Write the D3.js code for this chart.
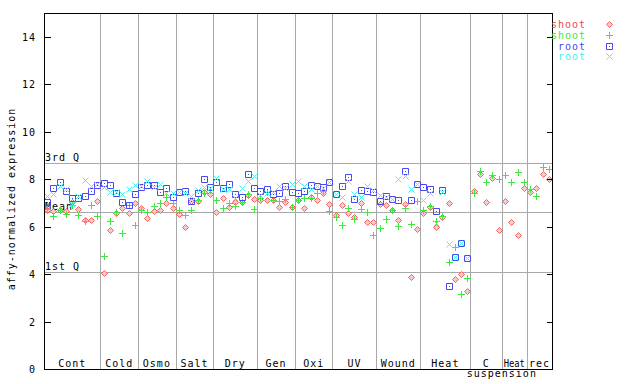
<!DOCTYPE html>
<html>
<head>
<meta charset="utf-8">
<script src="https://cdn.jsdelivr.net/npm/d3@7"></script>
<style>
  body { margin: 0; background: #fff; }
  svg text { font-family: "DejaVu Sans Mono", monospace; font-size: 10px; letter-spacing: 1px; }
</style>
</head>
<body>
<svg id="chart" width="640" height="384"></svg>
<script>
// groups along the x axis and how many samples each holds
const groupNames = ["Cont", "Cold", "Osmo", "Salt", "Dry", "Gen", "Oxi", "UV", "Wound", "Heat", "C", "Heat", "rec"];
const groupSizes = [9, 6, 6, 6, 7, 6, 6, 7, 7, 8, 5, 4, 4];

const shootRed = [6.70, 6.64, 6.71, 6.64, 7.02, 6.74, 6.27, 6.27, 7.08,
  4.04, 5.87, 6.57, 6.80, 6.57, 6.98,
  6.78, 6.35, 6.64, 6.70, 7.00, 6.78,
  6.54, 5.98, 7.08, 7.08, 7.44, 7.37,
  6.60, 7.22, 6.82, 7.05, 7.02, 7.34, 7.17,
  7.12, 7.12, 7.13, 6.82, 7.02, 6.81,
  7.10, 6.78, 7.25, 7.12, 7.41, 6.95,
  6.49, 6.91, 6.57, 6.40, 7.01, 6.18, 6.20,
  6.96, 6.92, 6.68, 6.29, 6.94, 3.87, 5.90,
  6.57, 6.82, 5.98, 6.40, 6.99, 3.80, 4.00, 3.28,
  7.50, 8.22, 7.03, 8.05, 5.85,
  7.08, 6.19, 5.64, 7.62,
  7.46, 7.62, 8.22, 8.00];
const shootGreen = [6.75, 6.46, 6.71, 6.54, 6.90, 6.49, 6.23, 6.91, 6.46,
  4.78, 6.23, 6.60, 5.73, 6.91, 6.06,
  6.71, 6.60, 6.87, 6.99, 7.23, 6.98,
  6.70, 6.49, 6.70, 7.13, 7.41, 7.55,
  7.13, 6.78, 7.00, 6.88, 7.05, 7.39, 6.75,
  7.19, 7.47, 7.12, 7.09, 7.16, 6.81,
  7.12, 7.22, 7.19, 7.41, 7.48, 6.65,
  6.40, 6.06, 6.77, 6.32, 6.74, 6.61, 5.64,
  5.94, 6.32, 6.71, 6.04, 6.78, 6.12, 7.08,
  6.68, 6.85, 6.23, 6.43, 4.50, 5.16, 3.17, 3.83,
  7.41, 8.36, 7.88, 8.16, 8.02,
  8.19, 7.88, 8.30, 7.88,
  7.60, 7.30, 8.52, 8.43];
const rootBlue = [7.03, 7.62, 7.86, 7.51, 7.22, 7.22, 7.30, 7.48, 7.75,
  7.84, 7.75, 7.40, 7.05, 6.91, 7.37,
  7.67, 7.75, 7.75, 7.46, 7.62, 7.25,
  7.46, 7.50, 7.08, 7.41, 8.00, 7.67,
  7.86, 7.61, 7.81, 7.39, 7.26, 8.23, 7.64,
  7.51, 7.58, 7.39, 7.43, 7.72, 7.46,
  7.41, 7.50, 7.75, 7.70, 7.67, 7.86,
  7.36, 7.72, 8.10, 7.16, 7.54, 7.50, 7.44,
  7.08, 7.30, 7.16, 7.13, 8.34, 7.13, 7.78,
  7.68, 7.58, 6.65, 7.53, 3.49, 4.74, 5.30, 4.69];
const rootCyan = [7.30, 7.37, 7.72, 7.58, 6.94, 7.27, 7.98, 7.70, 7.81,
  7.65, 7.46, 7.44, 7.39, 7.58, 7.77,
  7.70, 7.93, 7.67, 7.81, 7.41, 7.41,
  7.46, 7.41, 7.27, 7.53, 7.67, 7.64,
  8.06, 7.58, 7.58, 7.20, 7.64, 7.93, 8.12,
  7.35, 7.41, 7.45, 7.70, 7.62, 7.81,
  7.93, 7.72, 7.58, 7.70, 7.62, 7.86,
  7.36, 7.25, 7.93, 7.36, 7.25, 7.70, 7.53,
  7.33, 7.25, 7.16, 8.00, 8.12, 7.58, 7.78,
  7.13, 7.41, 6.15, 7.44, 5.28, 4.74, 5.30, 4.69];

const quartileLabels = ["3rd Q", "Mean", "1st Q"];
const quartileValues = [8.67, 6.62, 4.07];

const yTicks = [0, 2, 4, 6, 8, 10, 12, 14];

const series = [
  { name: "shoot", color: "#f04848", shape: "diamond", values: shootRed },
  { name: "shoot", color: "#3ee83e", shape: "plus", values: shootGreen },
  { name: "root", color: "#4848f0", shape: "square", values: rootBlue },
  { name: "root", color: "#48f0f0", shape: "cross", values: rootCyan },
];

const svg = d3.select("#chart");
const margin = { top: 13, right: 88, bottom: 15, left: 44 };
const width = 640, height = 384;
const nSamples = d3.sum(groupSizes);

const x = d3.scaleLinear().domain([0, nSamples]).range([margin.left, width - margin.right]);
const y = d3.scaleLinear().domain([0, 15]).range([height - margin.bottom, margin.top]);

const px = (v) => Math.round(v) + 0.5;

// group separators
const bounds = d3.cumsum(groupSizes);
const starts = [0, ...bounds.slice(0, -1)];
svg.append("g")
  .selectAll("line")
  .data(bounds.slice(0, -1))
  .join("line")
  .attr("x1", (d) => px(x(d))).attr("x2", (d) => px(x(d)))
  .attr("y1", y(15)).attr("y2", y(0))
  .attr("stroke", "#a8a8a8");

// quartile lines
const qg = svg.append("g");
qg.selectAll("line")
  .data(quartileValues)
  .join("line")
  .attr("x1", x(0)).attr("x2", x(nSamples))
  .attr("y1", (d) => px(y(d))).attr("y2", (d) => px(y(d)))
  .attr("stroke", "#a8a8a8");

// markers
const markerPath = {
  diamond: "M0,-3L3,0L0,3L-3,0Z",
  plus: "M-3.5,0H3.5M0,-3.5V3.5",
  square: "M-3,-3H3V3H-3Z",
  cross: "M-3,-3L3,3M-3,3L3,-3",
};

const drawMarker = (sel, s) => {
  sel.append("path")
    .attr("d", markerPath[s.shape])
    .attr("fill", s.shape === "diamond" ? "#ffc8c8" : "none")
    .attr("stroke", s.color)
    .attr("stroke-width", s.shape === "diamond" ? 0.8 : 1);
  if (s.shape === "square") {
    sel.append("rect").attr("x", -0.5).attr("y", -0.5).attr("width", 1).attr("height", 1).attr("fill", s.color);
  }
};

series.forEach((s) => {
  const pts = s.values.map((v, i) => ({ i, v }));
  svg.append("g")
    .selectAll("g")
    .data(pts)
    .join("g")
    .attr("transform", (d) => `translate(${px(x(d.i + 0.5))},${px(y(d.v))})`)
    .each(function () { drawMarker(d3.select(this), s); });
});

// quartile labels
qg.selectAll("text")
  .data(quartileValues)
  .join("text")
  .attr("x", x(0) + 1)
  .attr("y", (d) => y(d) - 2)
  .text((d, i) => quartileLabels[i]);

// frame
svg.append("rect")
  .attr("x", x(0) + 0.5).attr("y", y(15) + 0.5)
  .attr("width", x(nSamples) - x(0)).attr("height", y(0) - y(15))
  .attr("fill", "none").attr("stroke", "#000");

// y axis (ticks inside on both sides)
const yAxisL = d3.axisRight(y).tickValues(yTicks).tickSize(6).tickFormat("");
const yAxisR = d3.axisLeft(y).tickValues(yTicks).tickSize(6).tickFormat("");
svg.append("g").attr("transform", `translate(${x(0) + 0.5},0)`).call(yAxisL)
  .call((g) => g.select(".domain").remove());
svg.append("g").attr("transform", `translate(${x(nSamples) + 0.5},0)`).call(yAxisR)
  .call((g) => g.select(".domain").remove());
svg.selectAll(".tick line").attr("stroke", "#000").attr("shape-rendering", "crispEdges");

svg.append("g")
  .selectAll("text")
  .data(yTicks)
  .join("text")
  .attr("x", 36)
  .attr("y", (d) => y(d) + 4)
  .attr("text-anchor", "end")
  .text((d) => d);

svg.append("text")
  .attr("transform", `translate(15,${(y(0) + y(15)) / 2 + 8}) rotate(-90)`)
  .attr("text-anchor", "middle")
  .text("affy-normalized expression");

// group labels
const gl = svg.append("g");
groupNames.forEach((name, k) => {
  const x0 = x(starts[k]), x1 = x(bounds[k]);
  const t = gl.append("text")
    .attr("y", 367)
    .attr("text-anchor", "start")
    .text(name);
  let w = t.node().getComputedTextLength();
  const room = x1 - x0 - 4;
  if (w > room) {
    t.style("letter-spacing", "0px")
      .attr("textLength", room).attr("lengthAdjust", "spacingAndGlyphs");
    w = room;
  }
  let left = (x0 + x1) / 2 - w / 2;
  if (left < x0 + 2) left = x0 + 2;
  t.attr("x", left);
  if (name === "C") {
    gl.append("text")
      .attr("x", x1)
      .attr("y", 377)
      .attr("text-anchor", "middle")
      .text("suspension");
  }
});

// legend
const lg = svg.append("g");
series.forEach((s, k) => {
  const cy = 24 + k * 10.8;
  lg.append("text")
    .attr("x", 586)
    .attr("y", cy + 4)
    .attr("text-anchor", "end")
    .attr("fill", s.color)
    .text(s.name);
  const m = lg.append("g").attr("transform", `translate(${px(609)},${px(cy)})`);
  drawMarker(m, s);
});
</script>
</body>
</html>
